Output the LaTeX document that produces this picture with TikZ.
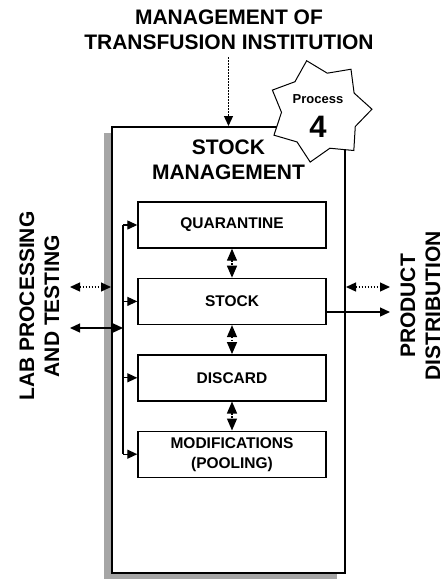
\documentclass[tikz,border=0pt]{standalone}
\usepackage{fontspec}
\setmainfont{Liberation Sans}
\usetikzlibrary{shapes.geometric,arrows.meta,positioning,shadows}

\tikzset{
  heading/.style={font=\bfseries\fontsize{21}{25}\selectfont,align=center,inner sep=1pt},
  stage/.style={draw,line width=1.4pt,minimum width=188pt,minimum height=46pt,inner sep=0pt,
    font=\bfseries\fontsize{15.5}{20}\selectfont,align=center},
  tip/.style={line width=1.3pt,-{Triangle[length=10pt,width=9pt]}},
  both/.style={line width=1.3pt,{Triangle[length=10pt,width=9pt]}-{Triangle[length=10pt,width=9pt]}},
  swap/.style={line width=1.3pt,{Triangle[length=12pt,width=10pt]}-{Triangle[length=12pt,width=10pt]}},
  dots/.style={dash pattern=on 1.5pt off 1.5pt},
}

\begin{document}
\begin{tikzpicture}[x=1pt,y=-1pt]
    \useasboundingbox (0,0) rectangle (444,579);
    % outer process box with shadow
    \node[draw,line width=2pt,fill=white,minimum width=233pt,minimum height=446pt,
      drop shadow={shadow xshift=-8pt,shadow yshift=-6pt,fill=black!35,opacity=1}] (main) at (228.5,350) {};
    \node[heading] (title) at (228.5,159.5) {STOCK\\MANAGEMENT};
    % badge
    \node[star,star points=7,star point ratio=1.35,minimum size=104pt,draw,line width=1pt,fill=white,
      shape border rotate=-88] (badge) at (320,111) {};
    \node[font=\bfseries\fontsize{13}{15}\selectfont] (proc) at (318,99) {Process};
    \node[font=\bfseries\fontsize{31}{33}\selectfont] (num) at (318,127) {4};
    % stages
    \node[stage] (quar) at (232,225) {QUARANTINE};
    \node[stage,below=29pt of quar] (stock) {STOCK};
    \node[stage,below=29pt of stock] (disc) {DISCARD};
    \node[stage,below=29pt of disc] (mods) {MODIFICATIONS\\(POOLING)};
    \draw[swap,dots] (quar) -- (stock);
    \draw[swap,dots] (stock) -- (disc);
    \draw[swap,dots] (disc) -- (mods);
    % feed line on the left
    \coordinate (bus) at (123,0);
    \draw[line width=1.3pt] (quar.west -| bus) -- (mods.west -| bus);
    \foreach \s in {quar,stock,disc,mods}
      \draw[tip] (\s.west -| bus) -- (\s.west);
    % outside parties
    \node[heading] (mgmt) at (229,30) {MANAGEMENT OF\\TRANSFUSION INSTITUTION};
    \node[heading,rotate=90] (lab) at (39.5,306) {LAB PROCESSING\\AND TESTING};
    \node[heading,rotate=90] (dist) at (420.5,306) {PRODUCT\\DISTRIBUTION};
    \draw[tip,dots] (mgmt.south -| main.north) ++(0,6) coordinate (mgmtout) -- (main.north);
    \coordinate (labdot) at (70,287);
    \coordinate (labsolid) at (70,328);
    \coordinate (distdot) at (390,287);
    \coordinate (distsolid) at (390,312);
    \draw[both,dots] (labdot) -- (main.west |- labdot);
    \draw[both] (labsolid) -- (bus |- labsolid);
    \draw[both,dots] (main.east |- distdot) -- (distdot);
    \draw[tip] (stock.east |- distsolid) -- (distsolid);
\end{tikzpicture}
\end{document}
